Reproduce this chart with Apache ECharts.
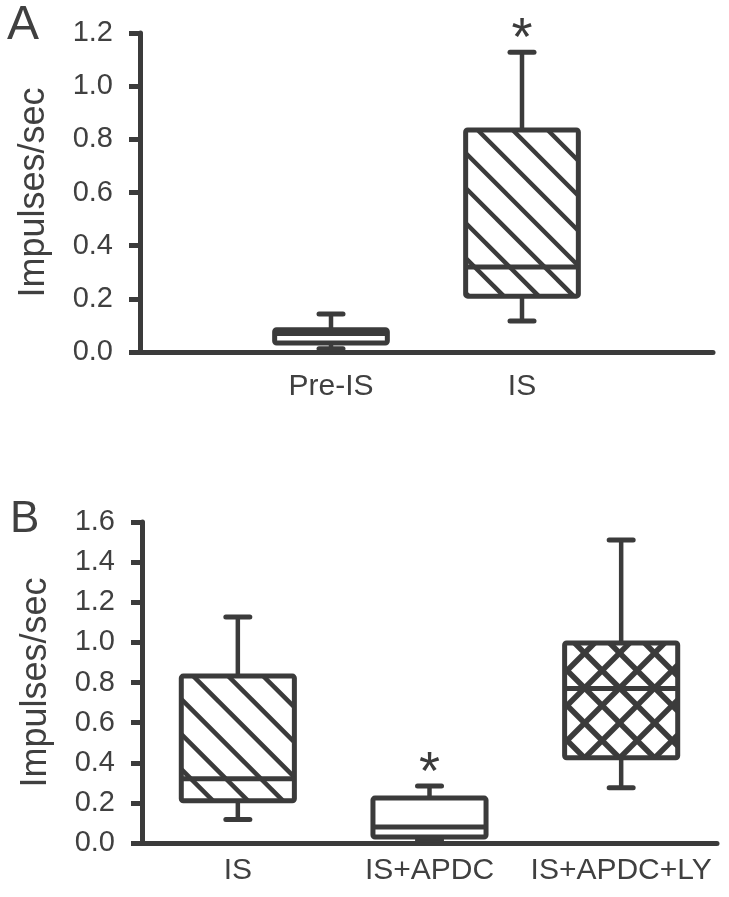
<!DOCTYPE html>
<html>
<head>
<meta charset="utf-8">
<script src="https://cdn.jsdelivr.net/npm/echarts@6/dist/echarts.min.js"></script>
<style>
  html, body { margin: 0; padding: 0; background: #fff; }
  #chart { width: 729px; height: 897px; }
</style>
</head>
<body>
<div id="chart"></div>
<script>
// panel A
const categoriesA = ["", "Pre-IS", "IS", ""];
const boxesA = [
  // [category index, min, q1, median, q3, max]
  [1, 0.012, 0.034, 0.07, 0.084, 0.143],
  [2, 0.117, 0.21, 0.32, 0.835, 1.128],
];
const patternA = ["none", "diag"];
const signifA = [false, true];
const ticksA = { min: 0, max: 1.2, interval: 0.2 };

// panel B
const categoriesB = ["IS", "IS+APDC", "IS+APDC+LY"];
const boxesB = [
  [0, 0.117, 0.21, 0.32, 0.832, 1.127],
  [1, 0.015, 0.03, 0.08, 0.224, 0.284],
  [2, 0.275, 0.425, 0.77, 0.997, 1.51],
];
const patternB = ["diag", "none", "cross"];
const signifB = [false, true, false];
const ticksB = { min: 0, max: 1.6, interval: 0.2 };

const ink = "#3b3b3b";
const font = "'Liberation Sans', Arial, sans-serif";

function hatchLines(x0, y0, x1, y1, kind, step, offset, width) {
  const out = [];
  if (kind === "diag") {
    // lines x - y = c
    const base = x0 + offset - y0;
    const kMin = Math.ceil((x0 - y1 - base) / step);
    const kMax = Math.floor((x1 - y0 - base) / step);
    for (let k = kMin; k <= kMax; k++) {
      const c = base + k * step;
      const xs = Math.max(x0, y0 + c);
      const xe = Math.min(x1, y1 + c);
      if (xe - xs < 1) continue;
      out.push({
        type: "line",
        shape: { x1: xs, y1: xs - c, x2: xe, y2: xe - c },
        style: { stroke: ink, lineWidth: width },
      });
    }
  } else {
    // lines x + y = c
    const base = x0 + y0 + offset;
    const kMin = Math.ceil((x0 + y0 - base) / step);
    const kMax = Math.floor((x1 + y1 - base) / step);
    for (let k = kMin; k <= kMax; k++) {
      const c = base + k * step;
      const xs = Math.max(x0, c - y1);
      const xe = Math.min(x1, c - y0);
      if (xe - xs < 1) continue;
      out.push({
        type: "line",
        shape: { x1: xs, y1: c - xs, x2: xe, y2: c - xe },
        style: { stroke: ink, lineWidth: width },
      });
    }
  }
  return out;
}

function makeRender(patterns, signif) {
  return function (params, api) {
    const idx = api.value(0);
    const x = api.coord([idx, 0])[0];
    const yMin = api.coord([idx, api.value(1)])[1];
    const yQ1 = api.coord([idx, api.value(2)])[1];
    const yMed = api.coord([idx, api.value(3)])[1];
    const yQ3 = api.coord([idx, api.value(4)])[1];
    const yMax = api.coord([idx, api.value(5)])[1];
    const half = api.size([1, 0])[0] * 0.295;
    const cap = 12;
    const x0 = x - half, x1 = x + half;
    const pattern = patterns[params.dataIndex];

    const children = [
      {
        type: "line",
        shape: { x1: x, y1: yQ3, x2: x, y2: yMax },
        style: { stroke: ink, lineWidth: 4.5 },
      },
      {
        type: "line",
        shape: { x1: x, y1: yQ1, x2: x, y2: yMin },
        style: { stroke: ink, lineWidth: 4.5 },
      },
      {
        type: "line",
        shape: { x1: x - cap, y1: yMax, x2: x + cap, y2: yMax },
        style: { stroke: ink, lineWidth: 5, lineCap: "round" },
      },
      {
        type: "line",
        shape: { x1: x - cap, y1: yMin, x2: x + cap, y2: yMin },
        style: { stroke: ink, lineWidth: 5, lineCap: "round" },
      },
      {
        type: "rect",
        shape: { x: x0, y: yQ3, width: x1 - x0, height: yQ1 - yQ3 },
        style: { fill: "#fff", stroke: null },
      },
    ];

    if (pattern === "diag") {
      children.push(...hatchLines(x0, yQ3, x1, yQ1, "diag", 35, 12, 4.5));
    } else if (pattern === "cross") {
      children.push(...hatchLines(x0, yQ3, x1, yQ1, "diag", 35, 10, 5.5));
      children.push(...hatchLines(x0, yQ3, x1, yQ1, "anti", 35, 30, 5.5));
    }

    children.push(
      {
        type: "rect",
        shape: { x: x0, y: yQ3, width: x1 - x0, height: yQ1 - yQ3, r: 2 },
        style: { fill: null, stroke: ink, lineWidth: 5 },
      },
      {
        type: "line",
        shape: { x1: x0, y1: yMed, x2: x1, y2: yMed },
        style: { stroke: ink, lineWidth: 5 },
      }
    );

    if (signif[params.dataIndex]) {
      children.push({
        type: "text",
        style: {
          text: "*",
          x: x,
          y: yMax - 12,
          font: "54px " + font,
          fill: ink,
          textAlign: "center",
          textVerticalAlign: "middle",
        },
      });
    }
    return { type: "group", children: children };
  };
}

function yAxisFor(gridIndex, ticks) {
  return {
    type: "value",
    gridIndex: gridIndex,
    min: ticks.min,
    max: ticks.max,
    interval: ticks.interval,
    name: "Impulses/sec",
    nameLocation: "middle",
    nameGap: 88,
    nameTextStyle: { fontSize: 36, color: "#404040", fontFamily: font },
    axisLine: { show: true, lineStyle: { color: ink, width: 5 } },
    axisTick: { show: true, length: 11, lineStyle: { color: ink, width: 5 } },
    axisLabel: {
      margin: 27,
      fontSize: 29,
      color: "#404040",
      fontFamily: font,
      formatter: (v) => v.toFixed(1),
    },
    splitLine: { show: false },
  };
}

const chart = echarts.init(document.getElementById("chart"));

chart.setOption({
  backgroundColor: "#fff",
  animation: false,
  graphic: [
    {
      type: "text",
      left: 7,
      top: 2,
      style: { text: "A", font: "48px " + font, fill: "#404040" },
    },
    {
      type: "text",
      left: 10,
      top: 498,
      style: { text: "B", font: "44px " + font, fill: "#404040" },
    },
  ],
  grid: [
    { left: 140, top: 33, width: 573, height: 319 },
    { left: 142, top: 522, width: 575, height: 321 },
  ],
  xAxis: [
    {
      type: "category",
      gridIndex: 0,
      data: categoriesA,
      boundaryGap: false,
      axisLine: { lineStyle: { color: ink, width: 5, cap: "round" } },
      axisTick: { show: false },
      axisLabel: { margin: 20, fontSize: 30, color: "#404040", fontFamily: font, interval: 0 },
    },
    {
      type: "category",
      gridIndex: 1,
      data: categoriesB,
      boundaryGap: true,
      axisLine: { lineStyle: { color: ink, width: 5, cap: "round" } },
      axisTick: { show: false },
      axisLabel: { margin: 13, fontSize: 30, color: "#404040", fontFamily: font, interval: 0 },
    },
  ],
  yAxis: [yAxisFor(0, ticksA), yAxisFor(1, ticksB)],
  series: [
    {
      type: "custom",
      xAxisIndex: 0,
      yAxisIndex: 0,
      clip: false,
      renderItem: makeRender(patternA, signifA),
      data: boxesA,
    },
    {
      type: "custom",
      xAxisIndex: 1,
      yAxisIndex: 1,
      clip: false,
      renderItem: makeRender(patternB, signifB),
      data: boxesB,
    },
  ],
});
</script>
</body>
</html>
